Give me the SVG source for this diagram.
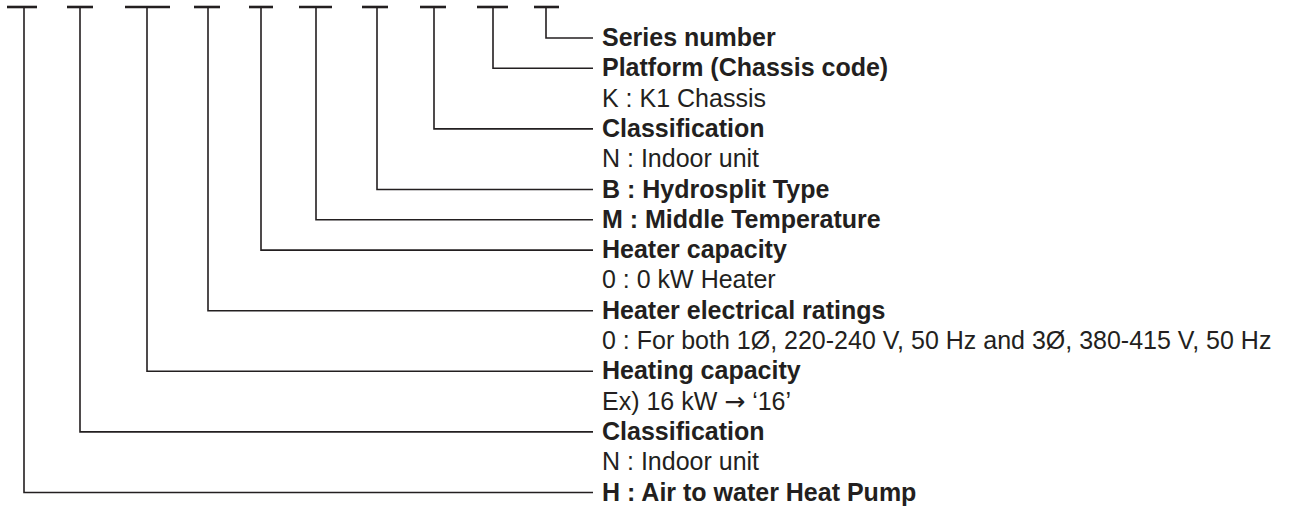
<svg xmlns="http://www.w3.org/2000/svg" width="1290" height="511" viewBox="0 0 1290 511">
<style>
  .bar { stroke: #231f20; stroke-width: 2.6; fill: none; }
  .conn { stroke: #231f20; stroke-width: 1.6; fill: none; }
  text { font-family: "Liberation Sans", Arial, sans-serif; font-size: 25px; fill: #231f20; }
  .b { font-weight: bold; }
  .arrow { font-family: "DejaVu Sans", sans-serif; font-size: 25px; }
</style>
<rect width="1290" height="511" fill="#ffffff"/>
<g id="code-slots">
  <line class="bar" x1="7" y1="7" x2="37" y2="7"/>
  <line class="bar" x1="67" y1="7" x2="93" y2="7"/>
  <line class="bar" x1="125" y1="7" x2="170" y2="7"/>
  <line class="bar" x1="194" y1="7" x2="220" y2="7"/>
  <line class="bar" x1="249" y1="7" x2="273" y2="7"/>
  <line class="bar" x1="299" y1="7" x2="332" y2="7"/>
  <line class="bar" x1="362" y1="7" x2="388" y2="7"/>
  <line class="bar" x1="420" y1="7" x2="446" y2="7"/>
  <line class="bar" x1="477" y1="7" x2="508" y2="7"/>
  <line class="bar" x1="534" y1="7" x2="559" y2="7"/>
</g>
<g id="connectors">
  <path class="conn" d="M546,7 V38 H593"/>
  <path class="conn" d="M493,7 V68.3 H593"/>
  <path class="conn" d="M434,7 V128.9 H593"/>
  <path class="conn" d="M377,7 V189.5 H593"/>
  <path class="conn" d="M316,7 V219.8 H593"/>
  <path class="conn" d="M261,7 V250.1 H593"/>
  <path class="conn" d="M208,7 V310.7 H593"/>
  <path class="conn" d="M147,7 V371.3 H593"/>
  <path class="conn" d="M80,7 V431.9 H593"/>
  <path class="conn" d="M24,7 V492.5 H593"/>
</g>
<g id="series-number">
  <text class="b" x="602" y="46">Series number</text>
</g>
<g id="platform">
  <text class="b" x="602" y="76.3">Platform (Chassis code)</text>
  <text x="602" y="106.6">K : K1 Chassis</text>
</g>
<g id="classification-1">
  <text class="b" x="602" y="136.9">Classification</text>
  <text x="602" y="167.2">N : Indoor unit</text>
</g>
<g id="hydrosplit">
  <text class="b" x="602" y="197.5">B : Hydrosplit Type</text>
</g>
<g id="middle-temp">
  <text class="b" x="602" y="227.8">M : Middle Temperature</text>
</g>
<g id="heater-capacity">
  <text class="b" x="602" y="258.1">Heater capacity</text>
  <text x="602" y="288.4">0 : 0 kW Heater</text>
</g>
<g id="heater-ratings">
  <text class="b" x="602" y="318.7">Heater electrical ratings</text>
  <text x="602" y="349">0 : For both 1Ø, 220-240 V, 50 Hz and 3Ø, 380-415 V, 50 Hz</text>
</g>
<g id="heating-capacity">
  <text class="b" x="602" y="379.3">Heating capacity</text>
  <text x="602" y="409.6">Ex) 16 kW <tspan class="arrow">→</tspan> ‘16’</text>
</g>
<g id="classification-2">
  <text class="b" x="602" y="439.9">Classification</text>
  <text x="602" y="470.2">N : Indoor unit</text>
</g>
<g id="heat-pump">
  <text class="b" x="602" y="500.5">H : Air to water Heat Pump</text>
</g>
</svg>
